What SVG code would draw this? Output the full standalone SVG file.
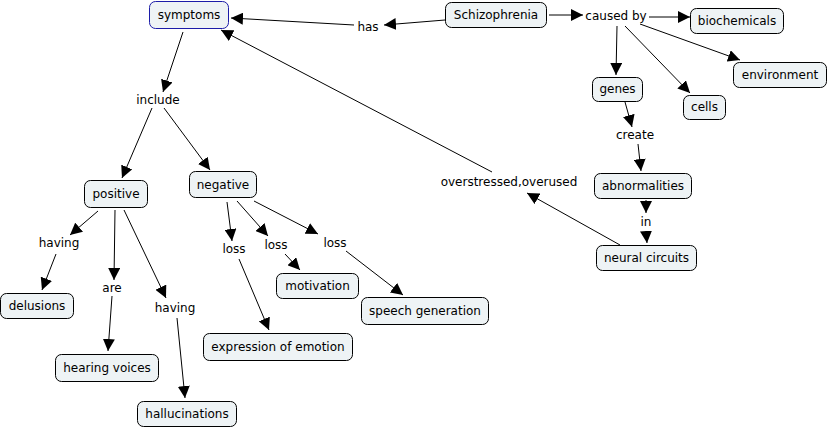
<svg xmlns="http://www.w3.org/2000/svg" width="828" height="428" viewBox="0 0 828 428">
<defs>
<marker id="ah" viewBox="0 0 12 12" refX="12" refY="6" markerWidth="12" markerHeight="12" markerUnits="userSpaceOnUse" orient="auto">
<path d="M0,0 L12,6 L0,12 z" fill="#000"/>
</marker>
<style>
.n rect{fill:#eef3f5;stroke:#000;stroke-width:1}
.n.b rect{stroke:#1c1ca8}
text{font-family:"DejaVu Sans",Verdana,sans-serif;font-size:12px;fill:#000;text-anchor:middle}
#connectors line{stroke:#000;stroke-width:1;fill:none}
#connectors line.a{marker-end:url(#ah)}
</style>
</defs>
<rect width="828" height="428" fill="#fff"/>
<g id="connectors">
<line x1="445" y1="20" x2="384" y2="25" class="a"/>
<line x1="354" y1="25" x2="231" y2="18" class="a"/>
<line x1="549" y1="15" x2="583" y2="15" class="a"/>
<line x1="649" y1="17" x2="690" y2="17" class="a"/>
<line x1="640" y1="24" x2="740" y2="60" class="a"/>
<line x1="617" y1="26" x2="616" y2="75" class="a"/>
<line x1="625" y1="26" x2="690" y2="93" class="a"/>
<line x1="625" y1="102" x2="632" y2="127" class="a"/>
<line x1="638" y1="144" x2="641" y2="171" class="a"/>
<line x1="646" y1="200" x2="646" y2="213" class="a"/>
<line x1="646" y1="231" x2="647" y2="243" class="a"/>
<line x1="620" y1="245" x2="527" y2="193" class="a"/>
<line x1="492" y1="172" x2="221" y2="30" class="a"/>
<line x1="183" y1="32" x2="163" y2="92" class="a"/>
<line x1="152" y1="108" x2="122" y2="178" class="a"/>
<line x1="164" y1="108" x2="210" y2="170" class="a"/>
<line x1="98" y1="211" x2="70" y2="235" class="a"/>
<line x1="56" y1="254" x2="42" y2="290" class="a"/>
<line x1="115" y1="210" x2="114" y2="280" class="a"/>
<line x1="112" y1="296" x2="108" y2="351" class="a"/>
<line x1="124" y1="210" x2="166" y2="298" class="a"/>
<line x1="177" y1="318" x2="185" y2="398" class="a"/>
<line x1="227" y1="202" x2="232" y2="241" class="a"/>
<line x1="237" y1="201" x2="268" y2="236" class="a"/>
<line x1="254" y1="201" x2="318" y2="234" class="a"/>
<line x1="285" y1="254" x2="300" y2="270" class="a"/>
<line x1="239" y1="259" x2="269" y2="330" class="a"/>
<line x1="346" y1="251" x2="403" y2="295" class="a"/>
</g>
<g id="labels">
<text x="368" y="31">has</text>
<text x="616" y="20">caused by</text>
<text x="158" y="104">include</text>
<text x="635" y="139">create</text>
<text x="646" y="226">in</text>
<text x="509" y="186">overstressed,overused</text>
<text x="59" y="247">having</text>
<text x="112" y="292">are</text>
<text x="175" y="312">having</text>
<text x="234" y="253">loss</text>
<text x="276" y="249">loss</text>
<text x="335" y="247">loss</text>
</g>
<g id="symptoms" class="n b"><rect x="149.5" y="1.5" width="79" height="27" rx="6"/><text x="189" y="19">symptoms</text></g>
<g id="schizophrenia" class="n"><rect x="445.5" y="2.5" width="101" height="25" rx="6"/><text x="496" y="19">Schizophrenia</text></g>
<g id="biochemicals" class="n"><rect x="690.5" y="8.5" width="93" height="25" rx="6"/><text x="737" y="25">biochemicals</text></g>
<g id="environment" class="n"><rect x="733.5" y="62.5" width="93" height="25" rx="6"/><text x="780" y="79">environment</text></g>
<g id="genes" class="n"><rect x="592.5" y="77.5" width="50" height="24" rx="6"/><text x="617.5" y="93">genes</text></g>
<g id="cells" class="n"><rect x="683.5" y="95.5" width="42" height="24" rx="6"/><text x="704.5" y="111">cells</text></g>
<g id="abnormalities" class="n"><rect x="594.5" y="173.5" width="97" height="25" rx="6"/><text x="643" y="190">abnormalities</text></g>
<g id="neural-circuits" class="n"><rect x="596.5" y="245.5" width="100" height="25" rx="6"/><text x="646.5" y="262">neural circuits</text></g>
<g id="positive" class="n"><rect x="84.5" y="180.5" width="63" height="27" rx="6"/><text x="116" y="198">positive</text></g>
<g id="negative" class="n"><rect x="189.5" y="171.5" width="67" height="26" rx="6"/><text x="223" y="189">negative</text></g>
<g id="delusions" class="n"><rect x="0.5" y="293.5" width="73" height="25" rx="6"/><text x="37" y="310">delusions</text></g>
<g id="hearing-voices" class="n"><rect x="55.5" y="354.5" width="103" height="27" rx="6"/><text x="107" y="372">hearing voices</text></g>
<g id="hallucinations" class="n"><rect x="137.5" y="401.5" width="99" height="25" rx="6"/><text x="187" y="418">hallucinations</text></g>
<g id="motivation" class="n"><rect x="276.5" y="273.5" width="82" height="25" rx="6"/><text x="317.5" y="290">motivation</text></g>
<g id="speech-generation" class="n"><rect x="361.5" y="297.5" width="127" height="27" rx="6"/><text x="425" y="315">speech generation</text></g>
<g id="expression-of-emotion" class="n"><rect x="203.5" y="333.5" width="149" height="27" rx="6"/><text x="278" y="351">expression of emotion</text></g>
</svg>
